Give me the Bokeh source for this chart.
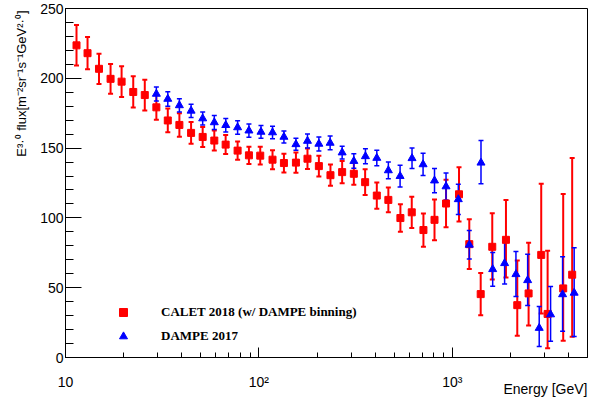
from bokeh.plotting import figure
from bokeh.models import (ColumnDataSource, Whisker, TeeHead, FixedTicker,
                          SingleIntervalTicker, Legend, LegendItem, Range1d, Title)
from bokeh.embed import file_html
from bokeh.resources import INLINE

# ---------------- data ----------------
calet_energy = [11.4, 13.0, 14.9, 17.1, 19.5, 22.4, 25.7, 29.5, 33.8, 38.8,
                44.6, 51.2, 58.8, 67.3, 77.6, 88.8, 101.6, 117.6, 134.7, 155.4,
                178.3, 204.2, 234.4, 269.4, 309.6, 354.2, 407, 467, 539, 617,
                709, 809, 928, 1083, 1224, 1402, 1609, 1894, 2167, 2480,
                2882, 3110, 3744, 4166]
calet_flux = [223.6, 218, 206.8, 199.6, 197.6, 190.2, 188, 179.2, 169.8, 166.6,
              160.9, 158, 155.4, 152.5, 148.2, 144.8, 144.6, 141.7, 139.3, 139.6,
              142.4, 137.1, 130.6, 132.8, 131.6, 125.6, 116, 112.9, 99.9, 104,
              91.3, 98.6, 110.3, 116.9, 81.2, 45.4, 79.3, 84.3, 37.5, 45.9,
              73.5, 31.2, 49.5, 59.3]
calet_err_up = [14.5, 11.5, 10.8, 10.7, 11, 11.2, 11, 8.9, 8.5, 8.4,
                7.8, 7.2, 7.2, 6.8, 6.6, 6.2, 6.3, 6.8, 6.7, 7.2,
                7.4, 7.4, 7.6, 8, 7.9, 9.2, 9.4, 8.8, 9.8, 11.2,
                11.9, 14.6, 17, 19.4, 17.8, 15.2, 24, 28.6, 32, 36.3,
                50.9, 45.2, 67.7, 83.6]
calet_err_lo = [14.5, 11.5, 10.8, 10.7, 11, 11.2, 11, 8.9, 8.5, 8.4,
                7.8, 7.2, 7.2, 6.8, 6.6, 6.2, 6.3, 6.8, 6.7, 7.2,
                7.4, 7.4, 7.6, 8, 7.9, 9.2, 9.4, 8.8, 9.8, 11.2,
                11.9, 14.6, 17, 19.4, 17.8, 15.2, 23.5, 27, 22, 23,
                42, 24.5, 37.5, 44.4]

dampe_energy = [29.5, 33.8, 38.8, 44.6, 51.2, 58.8, 67.4, 77.6, 88.8, 102.5,
                117.6, 134.7, 155.4, 178.3, 204.2, 233.5, 269.4, 309.6, 355.5, 407,
                467, 537, 619, 706, 809, 928, 1074, 1224, 1407, 1617,
                1864, 2133, 2452, 2814, 3222, 3717, 4266]
dampe_flux = [188.8, 185.2, 180.6, 176.7, 171.2, 168.4, 166.4, 164.8, 162.5, 161.6,
              161.2, 158, 152.7, 155.1, 153, 153.7, 146.8, 140.7, 144.1, 142.9,
              134, 129.9, 142.7, 138.3, 126.7, 122.5, 113.3, 80.7, 139.5, 63.2,
              67.5, 59.6, 55.3, 21.1, 30.8, 45.2, 46.3]
dampe_err_up = [5, 5.2, 4.8, 4.8, 4.6, 5, 4.8, 4.8, 4.7, 4.5,
                4.5, 4.3, 4.3, 5, 5, 4.9, 4.6, 5.2, 5.4, 5.5,
                6, 7.8, 7.4, 8, 8.7, 9.7, 10.8, 10.2, 16, 12.1,
                14.8, 16.3, 18.7, 15.4, 20, 27, 32.4]
dampe_err_lo = [5, 5.2, 4.8, 4.8, 4.6, 5, 4.8, 4.8, 4.7, 4.5,
                4.5, 4.3, 4.3, 5, 5, 4.9, 4.6, 5.2, 5.4, 5.5,
                6, 7.8, 7.4, 8, 8.7, 9.7, 10.8, 10.2, 15, 12.1,
                14.8, 15.9, 18, 13.2, 19.2, 26.4, 31.2]

x_range_limits = (10, 5000)
y_range_limits = (0, 250)
x_major_ticks = [10, 100, 1000]
x_tick_labels = {10: "10", 100: "10²", 1000: "10³"}
series_labels = ["CALET 2018 (w/ DAMPE binning)", "DAMPE 2017"]
x_title = "Energy [GeV]"
y_title = "E³·⁰ flux[m⁻²sr⁻¹s⁻¹GeV²·⁰]"

# ---------------- figure ----------------
p = figure(width=589, height=399, x_axis_type="log",
           x_range=Range1d(*x_range_limits), y_range=Range1d(*y_range_limits),
           output_backend="svg", toolbar_location=None,
           min_border_left=65, min_border_right=2,
           min_border_top=8, min_border_bottom=42)
p.grid.visible = False
p.outline_line_color = "black"
p.outline_line_width = 1
p.background_fill_color = "white"
p.border_fill_color = "white"

minor = [m * d for d in (10, 100, 1000) for m in range(2, 10) if m * d <= 5000]
p.xaxis.ticker = FixedTicker(ticks=x_major_ticks, minor_ticks=minor)
p.xaxis.major_label_overrides = x_tick_labels
p.xaxis.major_tick_in = 10
p.xaxis.major_tick_out = 0
p.xaxis.minor_tick_in = 5
p.xaxis.minor_tick_out = 0
p.xaxis.major_label_standoff = 16

p.yaxis.ticker = SingleIntervalTicker(interval=50, num_minor_ticks=5)
p.yaxis.major_tick_in = 16
p.yaxis.major_tick_out = 0
p.yaxis.minor_tick_in = 8
p.yaxis.minor_tick_out = 0
p.yaxis.major_label_standoff = 2

for ax in (p.xaxis, p.yaxis):
    ax.axis_line_color = "black"
    ax.major_tick_line_color = "black"
    ax.minor_tick_line_color = "black"
    ax.major_label_text_font = "Liberation Sans"
    ax.major_label_text_font_size = "14px"
    ax.major_label_text_color = "black"

# ---------------- data sources ----------------
red = ColumnDataSource(dict(
    x=calet_energy, y=calet_flux,
    upper=[v + e for v, e in zip(calet_flux, calet_err_up)],
    lower=[v - e for v, e in zip(calet_flux, calet_err_lo)]))
blue = ColumnDataSource(dict(
    x=dampe_energy, y=dampe_flux,
    upper=[v + e for v, e in zip(dampe_flux, dampe_err_up)],
    lower=[v - e for v, e in zip(dampe_flux, dampe_err_lo)]))

RED = "#ff0000"
BLUE = "#0000ff"

p.add_layout(Whisker(source=red, base="x", upper="upper", lower="lower",
                     dimension="height", line_color=RED, line_width=2,
                     upper_head=TeeHead(size=5, line_color=RED, line_width=2),
                     lower_head=TeeHead(size=5, line_color=RED, line_width=2)))
r_red = p.scatter("x", "y", source=red, marker="square", size=7,
                  fill_color=RED, line_color=RED)

p.add_layout(Whisker(source=blue, base="x", upper="upper", lower="lower",
                     dimension="height", line_color=BLUE, line_width=1.5,
                     upper_head=TeeHead(size=5, line_color=BLUE, line_width=1.5),
                     lower_head=TeeHead(size=5, line_color=BLUE, line_width=1.5)))
r_blue = p.scatter("x", "y", source=blue, marker="triangle", size=8,
                   fill_color=BLUE, line_color=BLUE)

# ---------------- legend ----------------
legend = Legend(items=[LegendItem(label=series_labels[0], renderers=[r_red]),
                       LegendItem(label=series_labels[1], renderers=[r_blue])],
                location=(48, 11), orientation="vertical",
                glyph_width=20, glyph_height=20, label_height=20,
                spacing=4, padding=0, margin=0, label_standoff=28,
                border_line_alpha=0, background_fill_alpha=0,
                label_text_font="Liberation Serif", label_text_font_style="bold",
                label_text_font_size="13px", label_text_color="black")
p.add_layout(legend)

# ---------------- axis titles (right-aligned, ROOT style) ----------------
p.add_layout(Title(text=y_title, align="right", offset=2,
                   vertical_align="bottom", standoff=18,
                   text_font="Liberation Sans", text_font_size="13px",
                   text_font_style="normal", text_color="black"), "left")
p.add_layout(Title(text=x_title, align="right", offset=0,
                   vertical_align="top", standoff=-23,
                   text_font="Liberation Sans", text_font_size="14px",
                   text_font_style="normal", text_color="black"), "below")

open("out.html", "w").write(file_html(p, INLINE))
